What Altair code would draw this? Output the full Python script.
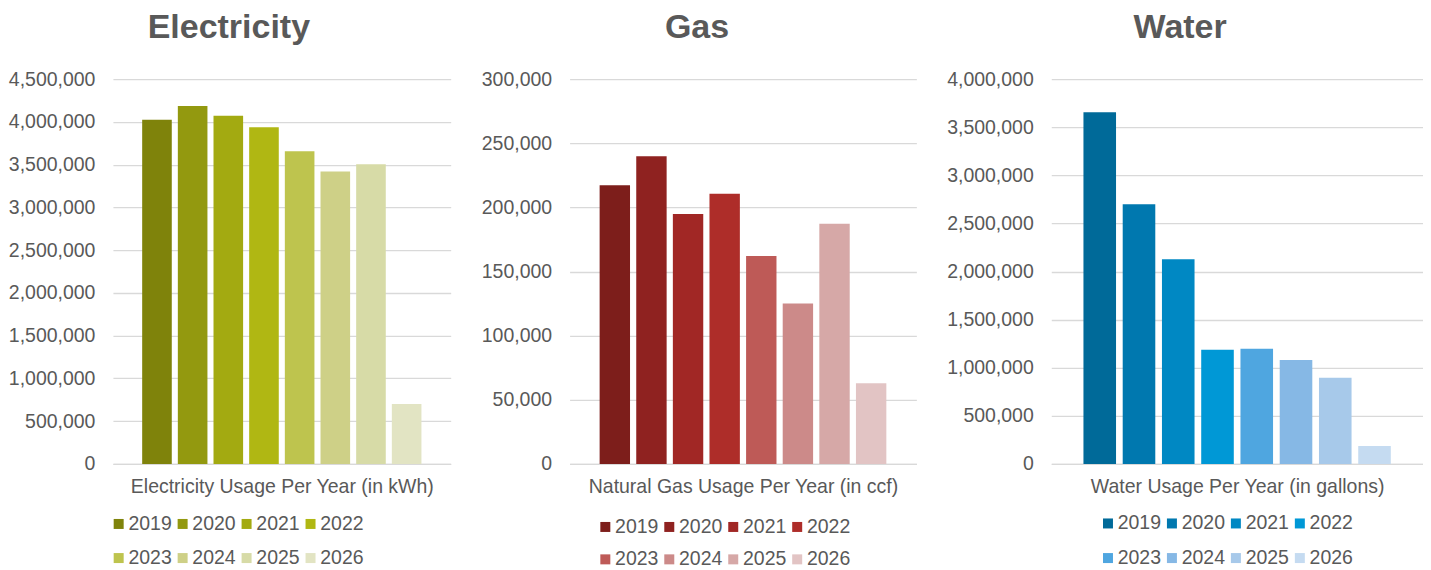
import altair as alt
import pandas as pd

years = ["2019", "2020", "2021", "2022", "2023", "2024", "2025", "2026"]

elec_kwh = [4025000, 4185000, 4072000, 3937000, 3657000, 3420000, 3505000, 700000]
gas_ccf = [217200, 239800, 194900, 210700, 162000, 125000, 187300, 62800]
water_gal = [3657000, 2699000, 2128000, 1187000, 1197000, 1080000, 896000, 187000]

elec_ticks = [0, 500000, 1000000, 1500000, 2000000, 2500000, 3000000, 3500000, 4000000, 4500000]
gas_ticks = [0, 50000, 100000, 150000, 200000, 250000, 300000]
water_ticks = [0, 500000, 1000000, 1500000, 2000000, 2500000, 3000000, 3500000, 4000000]

elec_colors = ["#7F830B", "#93990F", "#A3AA11", "#B0B713", "#BEC44E", "#CED087", "#D7DBA7", "#E2E4C3"]
gas_colors = ["#7D1E1B", "#8F2220", "#A12725", "#AE2D29", "#BE5A57", "#CC8A89", "#D6A8A7", "#E2C4C4"]
water_colors = ["#006A99", "#0078AF", "#0088C3", "#0098D6", "#4FA6E0", "#86B8E5", "#A7C9EA", "#C5DBF1"]

GRAY = "#595959"
GRID = "#D9D9D9"
FONT = "Liberation Sans"


def panel(title, values, colors, axis_title, ticks, width, title_dx,
          legend_x, legend_y, row_pad):
    df = pd.DataFrame({"Year": years, "Usage": values})
    return (
        alt.Chart(
            df,
            title=alt.TitleParams(
                text=title, fontSize=34, fontWeight="bold", color=GRAY, font=FONT,
                anchor="middle", dx=title_dx, offset=24,
            ),
        )
        .mark_bar()
        .encode(
            x=alt.X(
                "Year:N", sort=years, title=axis_title,
                scale=alt.Scale(paddingInner=0.17, paddingOuter=0.82),
                axis=alt.Axis(
                    labels=False, ticks=False, domainColor=GRID, domainWidth=1.3,
                    titleFontSize=19.5, titleColor=GRAY, titleFont=FONT,
                    titleFontWeight="normal", titlePadding=14,
                ),
            ),
            y=alt.Y(
                "Usage:Q", title=None,
                scale=alt.Scale(domain=[ticks[0], ticks[-1]], nice=False),
                axis=alt.Axis(
                    values=ticks, format=",d", labelFontSize=19.5, labelColor=GRAY,
                    labelFont=FONT, labelPadding=18, ticks=False, domain=False,
                    gridColor=GRID, gridWidth=1.3,
                ),
            ),
            color=alt.Color(
                "Year:N", sort=years,
                scale=alt.Scale(domain=years, range=colors),
                legend=alt.Legend(
                    title=None, orient="none", legendX=legend_x, legendY=legend_y,
                    columns=4, direction="horizontal", symbolType="square",
                    symbolSize=100, symbolStrokeWidth=0, symbolOpacity=1,
                    labelFontSize=19.5, labelColor=GRAY, labelFont=FONT,
                    columnPadding=1, rowPadding=row_pad, labelOffset=0, padding=0,
                ),
            ),
        )
        .properties(width=width, height=385)
    )


elec = panel("Electricity", elec_kwh, elec_colors, "Electricity Usage Per Year (in kWh)",
             elec_ticks, 338, -53, -4, 435, 13.5)
gas = panel("Gas", gas_ccf, gas_colors, "Natural Gas Usage Per Year (in ccf)",
            gas_ticks, 347, -46, 26, 438, 11.8)
water = panel("Water", water_gal, water_colors, "Water Usage Per Year (in gallons)",
              water_ticks, 372, -57, 47, 434.5, 14)

chart = (
    alt.hconcat(elec, gas, water, spacing=30)
    .resolve_scale(color="independent", y="independent")
    .properties(padding={"left": 0, "top": 3, "right": 0, "bottom": 0})
    .configure_view(stroke=None)
)

chart.save("out.html", embed_options={"renderer": "svg", "actions": False})
